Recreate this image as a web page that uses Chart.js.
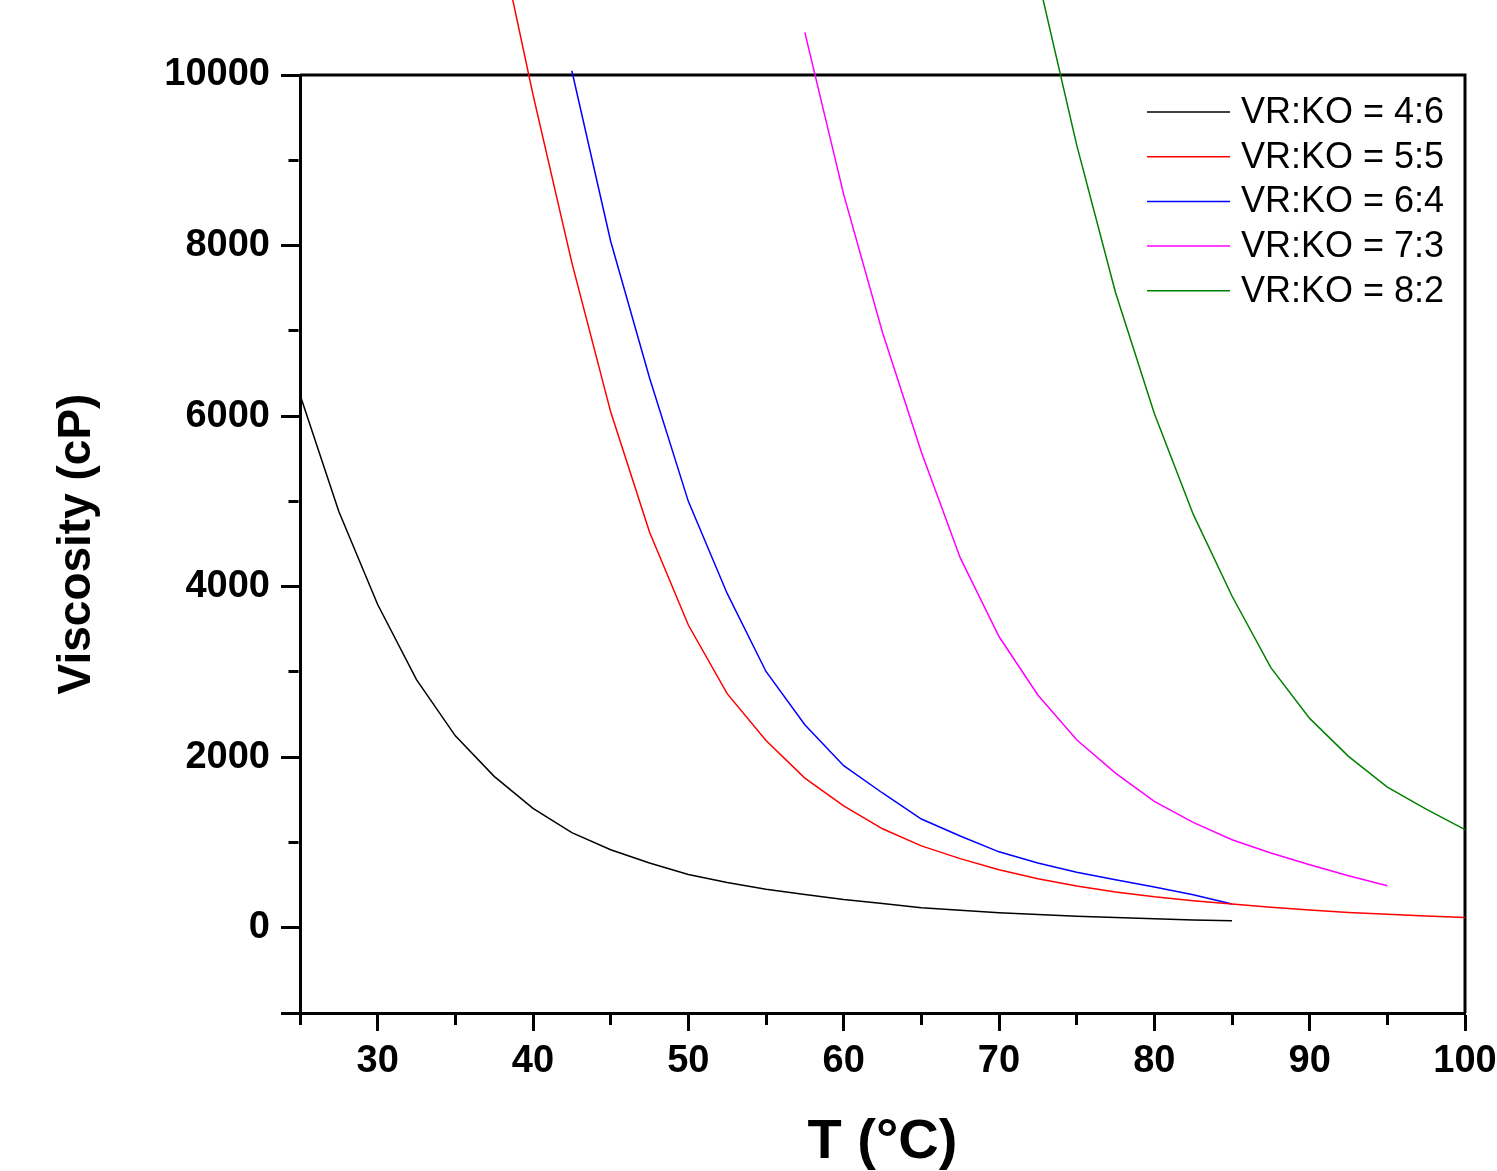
<!DOCTYPE html>
<html>
<head>
<meta charset="utf-8">
<script src="https://cdn.jsdelivr.net/npm/chart.js@4.4.1/dist/chart.umd.min.js"></script>
<style>
  html, body { margin: 0; padding: 0; background: #fff; }
  canvas { display: block; }
</style>
</head>
<body>
<canvas id="viscChart" width="1497" height="1171"></canvas>
<script>
// Data
const seriesLabels = ['VR:KO = 4:6', 'VR:KO = 5:5', 'VR:KO = 6:4', 'VR:KO = 7:3', 'VR:KO = 8:2'];
const seriesColors = ['#000000', '#ff0000', '#0000ff', '#ff00ff', '#008000'];

const tempsBlack = [25, 27.5, 30, 32.5, 35, 37.5, 40, 42.5, 45, 47.5, 50, 52.5, 55, 57.5, 60, 62.5, 65, 67.5, 70, 72.5, 75, 77.5, 80, 82.5, 85];
const viscBlack = [6250, 4880, 3790, 2910, 2250, 1775, 1400, 1115, 915, 760, 625, 530, 450, 390, 330, 285, 235, 205, 175, 155, 135, 120, 105, 92, 82];

const tempsRed = [37.5, 40, 42.5, 45, 47.5, 50, 52.5, 55, 57.5, 60, 62.5, 65, 67.5, 70, 72.5, 75, 77.5, 80, 82.5, 85, 87.5, 90, 92.5, 95, 97.5, 100];
const viscRed = [11900, 9770, 7800, 6050, 4640, 3550, 2745, 2195, 1755, 1430, 1160, 960, 810, 680, 575, 490, 420, 362, 316, 278, 240, 208, 180, 158, 138, 121];

const tempsBlue = [42.5, 45, 47.5, 50, 52.5, 55, 57.5, 60, 62.5, 65, 67.5, 70, 72.5, 75, 77.5, 80, 82.5, 85];
const viscBlue = [10050, 8050, 6450, 5000, 3920, 3005, 2380, 1900, 1580, 1275, 1075, 890, 760, 650, 563, 477, 387, 278];

const tempsMagenta = [57.5, 60, 62.5, 65, 67.5, 70, 72.5, 75, 77.5, 80, 82.5, 85, 87.5, 90, 92.5, 95];
const viscMagenta = [10500, 8600, 6980, 5580, 4340, 3415, 2730, 2205, 1813, 1481, 1235, 1032, 876, 738, 610, 492];

const tempsGreen = [72.5, 75, 77.5, 80, 82.5, 85, 87.5, 90, 92.5, 95, 97.5, 100];
const viscGreen = [11150, 9180, 7450, 6030, 4850, 3890, 3050, 2455, 2010, 1650, 1390, 1150];

const allTemps = [tempsBlack, tempsRed, tempsBlue, tempsMagenta, tempsGreen];
const allVisc = [viscBlack, viscRed, viscBlue, viscMagenta, viscGreen];

const FONT = '"Liberation Sans", Arial, Helvetica, sans-serif';

function toPoints(xs, ys) {
    return xs.map((x, i) => ({ x: x, y: ys[i] }));
}

// Legend drawn inside the plot, top right
const insideLegend = {
    id: 'insideLegend',
    afterDraw(chart) {
        const { ctx, chartArea } = chart;
        ctx.save();
        ctx.font = '36px ' + FONT;
        ctx.textBaseline = 'middle';
        ctx.textAlign = 'left';
        chart.data.datasets.forEach((ds, i) => {
            const y = chartArea.top + 37 + i * 44.7;
            ctx.strokeStyle = ds.borderColor;
            ctx.lineWidth = 1.5;
            ctx.beginPath();
            ctx.moveTo(chartArea.right - 318, y);
            ctx.lineTo(chartArea.right - 235, y);
            ctx.stroke();
            ctx.fillStyle = '#000';
            ctx.fillText(ds.label, chartArea.right - 224, y + 1);
        });
        ctx.restore();
    }
};

// Top and right sides of the frame
const frameBox = {
    id: 'frameBox',
    beforeDatasetsDraw(chart) {
        const { ctx, chartArea } = chart;
        ctx.save();
        ctx.strokeStyle = '#000';
        ctx.lineWidth = 3;
        ctx.beginPath();
        ctx.moveTo(chartArea.left, chartArea.top);
        ctx.lineTo(chartArea.right, chartArea.top);
        ctx.lineTo(chartArea.right, chartArea.bottom);
        ctx.stroke();
        ctx.restore();
    }
};

function createViscosityChart() {
    const ctx = document.getElementById('viscChart').getContext('2d');

    return new Chart(ctx, {
        type: 'line',
        data: {
            datasets: seriesLabels.map((label, i) => ({
                label: label,
                data: toPoints(allTemps[i], allVisc[i]),
                borderColor: seriesColors[i],
                backgroundColor: seriesColors[i],
                borderWidth: 1.5,
                pointRadius: 0,
                tension: 0,
                clip: false
            }))
        },
        options: {
            responsive: false,
            devicePixelRatio: 1,
            animation: false,
            layout: { padding: { top: 75, right: 32, bottom: 0, left: 0 } },
            plugins: {
                legend: { display: false },
                tooltip: { enabled: false }
            },
            scales: {
                x: {
                    type: 'linear',
                    min: 25,
                    max: 100,
                    afterFit(scale) {
                        scale.height = 158;
                        scale.paddingLeft = 0;
                        scale.paddingRight = 0;
                    },
                    border: { display: true, color: '#000', width: 3 },
                    grid: {
                        drawOnChartArea: false,
                        drawTicks: true,
                        tickLength: 18,
                        tickWidth: 3,
                        tickColor: '#000',
                        tickBorderDash: c => (c.tick && c.tick.value % 10 === 0) ? [] : [10, 100]
                    },
                    ticks: {
                        stepSize: 5,
                        autoSkip: false,
                        maxRotation: 0,
                        padding: 8,
                        color: '#000',
                        font: { family: FONT, size: 38, weight: 'bold' },
                        callback: v => (v % 10 === 0 ? String(v) : '')
                    },
                    title: {
                        display: true,
                        text: 'T (\u00B0C)',
                        color: '#000',
                        font: { family: FONT, size: 56, weight: 'bold', lineHeight: 1 },
                        padding: { top: 0, bottom: 0 }
                    }
                },
                y: {
                    type: 'linear',
                    min: -1000,
                    max: 10000,
                    afterFit(scale) {
                        scale.width = 300;
                        scale.paddingTop = 0;
                        scale.paddingBottom = 0;
                    },
                    border: { display: true, color: '#000', width: 3 },
                    grid: {
                        drawOnChartArea: false,
                        drawTicks: true,
                        tickLength: 19,
                        tickWidth: 3,
                        tickColor: '#000',
                        tickBorderDash: c => (c.tick && (c.tick.value % 2000 === 0 || c.tick.value === -1000)) ? [] : [0, 7.5, 10, 100]
                    },
                    ticks: {
                        stepSize: 1000,
                        autoSkip: false,
                        padding: 11,
                        color: '#000',
                        font: { family: FONT, size: 38, weight: 'bold' },
                        callback: v => (v >= 0 && v % 2000 === 0 ? String(v) : '')
                    },
                    title: {
                        display: true,
                        text: 'Viscosity (cP)',
                        color: '#000',
                        font: { family: FONT, size: 46, weight: 'bold' },
                        padding: { top: 50, bottom: 0 }
                    }
                }
            }
        },
        plugins: [frameBox, insideLegend]
    });
}

createViscosityChart();
</script>
</body>
</html>
